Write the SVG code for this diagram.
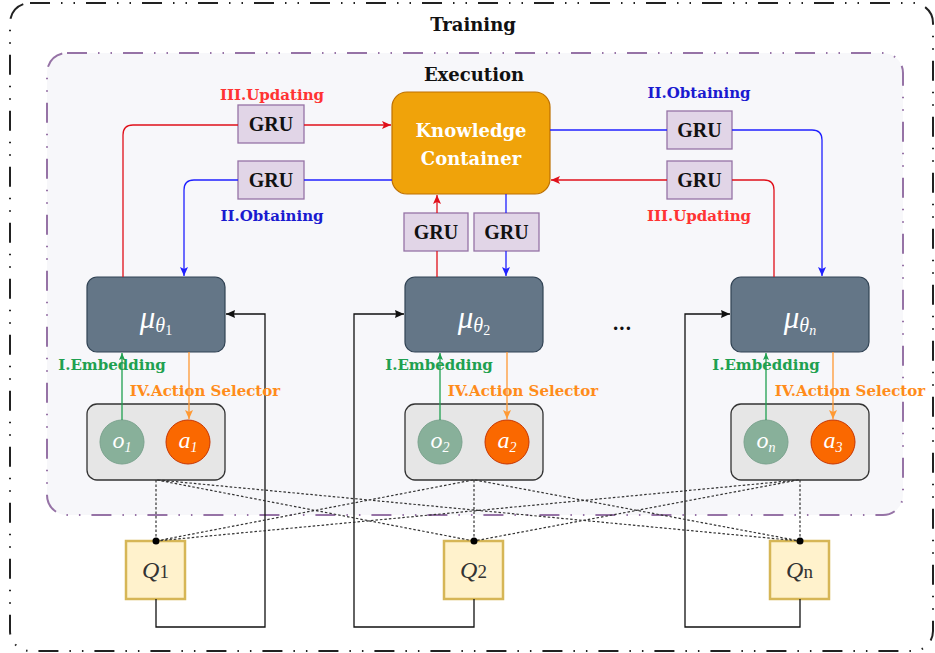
<svg xmlns="http://www.w3.org/2000/svg" width="935" height="653" viewBox="0 0 935 653">
<style>
.lbl{font-family:"DejaVu Serif","Liberation Serif",serif;font-weight:bold;text-anchor:middle}
.gru rect{fill:#E1D5E7;stroke:#9673A6;stroke-width:1.3}
.gru text{font-family:"Liberation Serif","DejaVu Serif",serif;font-weight:bold;font-size:20px;fill:#111;text-anchor:middle}
.mu rect{fill:#647687;stroke:#314354;stroke-width:1.2}
.mu text{font-family:"Liberation Serif","DejaVu Serif",serif;fill:#fff;text-anchor:middle}
.obs rect{fill:#E6E6E6;stroke:#333;stroke-width:1.3}
.oc{fill:#88B09A;stroke:#7BA38E;stroke-width:1}
.ac{fill:#FA6800;stroke:#C73500;stroke-width:1}
.ct{font-family:"Liberation Serif","DejaVu Serif",serif;fill:#fff;text-anchor:middle;font-style:italic}
.q rect{fill:#FFF2CC;stroke:#D6B656;stroke-width:2.5}
.q text{font-family:"Liberation Serif","DejaVu Serif",serif;fill:#333;text-anchor:middle}
.c{fill:none;stroke-width:1.3}
.red{stroke:#E0101A}
.blue{stroke:#2020FF}
.green{stroke:#1FA050}
.orange{stroke:#FF9933}
.blk{stroke:#111}
.dot{stroke:#333;stroke-dasharray:2.5 2;stroke-width:1.2;fill:none}
</style>
<defs>
<marker id="aR" markerWidth="10" markerHeight="10" refX="9" refY="5" orient="auto" markerUnits="userSpaceOnUse"><path d="M0,1 L9,5 L0,9 L2,5 Z" fill="#E0101A"/></marker>
<marker id="aB" markerWidth="10" markerHeight="10" refX="9" refY="5" orient="auto" markerUnits="userSpaceOnUse"><path d="M0,1 L9,5 L0,9 L2,5 Z" fill="#2020FF"/></marker>
<marker id="aG" markerWidth="8" markerHeight="8" refX="7" refY="4" orient="auto" markerUnits="userSpaceOnUse"><path d="M0,1 L7,4 L0,7 L1.5,4 Z" fill="#1FA050"/></marker>
<marker id="aO" markerWidth="10" markerHeight="10" refX="9" refY="5" orient="auto" markerUnits="userSpaceOnUse"><path d="M0,1 L9,5 L0,9 L2,5 Z" fill="#FF9933"/></marker>
<marker id="aK" markerWidth="10" markerHeight="10" refX="9" refY="5" orient="auto" markerUnits="userSpaceOnUse"><path d="M0,1 L9,5 L0,9 L1,5 Z" fill="#111"/></marker>
</defs>
<rect width="935" height="653" fill="#fff"/>
<g id="training">
<rect x="10" y="3" width="923" height="648" rx="20" fill="none" stroke="#222" stroke-width="2" stroke-dasharray="20 11 1.5 11 1.5 11"/>
<text class="lbl" x="473" y="31" font-size="18" fill="#111">Training</text>
</g>
<g id="execution">
<rect x="47" y="53" width="856" height="462" rx="20" fill="#F7F7FA" stroke="#9673A6" stroke-width="2" stroke-dasharray="20 11 1.5 11 1.5 11"/>
<text class="lbl" x="474" y="81" font-size="18" fill="#111">Execution</text>
</g>
<g id="knowledge-container">
<rect x="392" y="92" width="158" height="102" rx="15" fill="#F0A30A" stroke="#BD7000" stroke-width="1.2"/>
<text class="lbl" x="471" y="137" font-size="18" fill="#fff">Knowledge</text>
<text class="lbl" x="471" y="165" font-size="18" fill="#fff">Container</text>
</g>
<g id="gru1" class="gru"><rect x="238" y="105" width="66" height="38"/><text x="271" y="131">GRU</text></g>
<g id="gru2" class="gru"><rect x="238" y="161" width="66" height="38"/><text x="271" y="187">GRU</text></g>
<g id="gru3" class="gru"><rect x="404" y="213" width="64" height="38"/><text x="436" y="239">GRU</text></g>
<g id="gru4" class="gru"><rect x="474" y="213" width="65" height="38"/><text x="506.5" y="239">GRU</text></g>
<g id="gru5" class="gru"><rect x="667" y="111" width="65" height="38"/><text x="699.5" y="137">GRU</text></g>
<g id="gru6" class="gru"><rect x="667" y="161" width="65" height="38"/><text x="699.5" y="187">GRU</text></g>
<g id="mu1" class="mu"><rect x="87" y="277" width="138" height="75" rx="10"/><text x="156" y="328"><tspan font-style="italic" font-size="31">μ</tspan><tspan font-style="italic" font-size="20" dy="4">θ</tspan><tspan font-size="14" dy="3">1</tspan></text></g>
<g id="mu2" class="mu"><rect x="405" y="277" width="138" height="75" rx="10"/><text x="474" y="328"><tspan font-style="italic" font-size="31">μ</tspan><tspan font-style="italic" font-size="20" dy="4">θ</tspan><tspan font-size="14" dy="3">2</tspan></text></g>
<g id="mun" class="mu"><rect x="731" y="277" width="138" height="75" rx="10"/><text x="800" y="328"><tspan font-style="italic" font-size="31">μ</tspan><tspan font-style="italic" font-size="20" dy="4">θ</tspan><tspan font-style="italic" font-size="14" dy="3">n</tspan></text></g>
<g id="dots"><text class="lbl" x="622" y="330" font-size="18" fill="#111">...</text></g>
<g id="obs1" class="obs"><rect x="87" y="404" width="138" height="76" rx="10"/>
<circle class="oc" cx="122" cy="442" r="22"/><text class="ct" x="122" y="448"><tspan font-size="24">o</tspan><tspan font-size="14" dy="4">1</tspan></text>
<circle class="ac" cx="188" cy="442" r="22"/><text class="ct" x="188" y="448"><tspan font-size="24">a</tspan><tspan font-size="14" dy="4">1</tspan></text></g>
<g id="obs2" class="obs"><rect x="405" y="404" width="138" height="76" rx="10"/>
<circle class="oc" cx="440" cy="442" r="22"/><text class="ct" x="440" y="448"><tspan font-size="24">o</tspan><tspan font-size="14" dy="4">2</tspan></text>
<circle class="ac" cx="507" cy="442" r="22"/><text class="ct" x="507" y="448"><tspan font-size="24">a</tspan><tspan font-size="14" dy="4">2</tspan></text></g>
<g id="obsn" class="obs"><rect x="731" y="404" width="138" height="76" rx="10"/>
<circle class="oc" cx="766" cy="442" r="22"/><text class="ct" x="766" y="448"><tspan font-size="24">o</tspan><tspan font-size="14" dy="4">n</tspan></text>
<circle class="ac" cx="833" cy="442" r="22"/><text class="ct" x="833" y="448"><tspan font-size="24">a</tspan><tspan font-size="14" dy="4">3</tspan></text></g>
<g id="q1" class="q"><rect x="126" y="541" width="59" height="58"/><text x="155.5" y="578"><tspan font-style="italic" font-size="24">Q</tspan><tspan font-size="19">1</tspan></text></g>
<g id="q2" class="q"><rect x="444" y="541" width="59" height="58"/><text x="473.5" y="578"><tspan font-style="italic" font-size="24">Q</tspan><tspan font-size="19">2</tspan></text></g>
<g id="qn" class="q"><rect x="770" y="541" width="59" height="58"/><text x="799.5" y="578"><tspan font-style="italic" font-size="24">Q</tspan><tspan font-size="19">n</tspan></text></g>
<g id="connectors">
<path class="c red" d="M123,277 V135 Q123,125 133,125 H238"/>
<path class="c red" d="M304,125 H391" marker-end="url(#aR)"/>
<path class="c blue" d="M392,180 H304"/>
<path class="c blue" d="M238,180 H194 Q184,180 184,190 V276" marker-end="url(#aB)"/>
<path class="c red" d="M437,277 V251"/>
<path class="c red" d="M437,213 V195" marker-end="url(#aR)"/>
<path class="c blue" d="M506,194 V213"/>
<path class="c blue" d="M506,251 V276" marker-end="url(#aB)"/>
<path class="c blue" d="M550,130 H667"/>
<path class="c blue" d="M732,130 H812 Q822,130 822,140 V276" marker-end="url(#aB)"/>
<path class="c red" d="M774,277 V190 Q774,180 764,180 H732"/>
<path class="c red" d="M667,180 H551" marker-end="url(#aR)"/>
<path class="c green" d="M122,420 V353" marker-end="url(#aG)"/>
<path class="c orange" d="M189,352 V419" marker-end="url(#aO)"/>
<path class="c green" d="M440,420 V353" marker-end="url(#aG)"/>
<path class="c orange" d="M507,352 V419" marker-end="url(#aO)"/>
<path class="c green" d="M766,420 V353" marker-end="url(#aG)"/>
<path class="c orange" d="M833,352 V419" marker-end="url(#aO)"/>
<path class="c blk" d="M156,599 V627 H265 V314 H226" marker-end="url(#aK)"/>
<path class="c blk" d="M474,599 V627 H354 V314 H404" marker-end="url(#aK)"/>
<path class="c blk" d="M800,599 V627 H685 V314 H730" marker-end="url(#aK)"/>
<path class="dot" d="M156,480 L156,541 M157,480 L474,541 M158,480 L800,541 M474,480 L474,541 M473,480 L156,541 M475,480 L800,541 M800,480 L800,541 M799,480 L156,541 M798,480 L474,541"/>
</g>
<g id="junctions" fill="#000"><circle cx="156" cy="541" r="3.5"/><circle cx="474" cy="541" r="3.5"/><circle cx="800" cy="541" r="3.5"/></g>
<g id="label-updating-left"><text class="lbl" x="272" y="100" font-size="15" fill="#FF3333">III.Updating</text></g>
<g id="label-obtaining-left"><text class="lbl" x="272" y="221" font-size="15" fill="#1A1AD0">II.Obtaining</text></g>
<g id="label-obtaining-right"><text class="lbl" x="699" y="98" font-size="15" fill="#1A1AD0">II.Obtaining</text></g>
<g id="label-updating-right"><text class="lbl" x="699" y="221" font-size="15" fill="#FF3333">III.Updating</text></g>
<g id="emb1"><text class="lbl" x="112" y="370" font-size="15" fill="#1FA050">I.Embedding</text><text class="lbl" x="205" y="396" font-size="15" fill="#FF8C1A">IV.Action Selector</text></g>
<g id="emb2"><text class="lbl" x="439" y="370" font-size="15" fill="#1FA050">I.Embedding</text><text class="lbl" x="523" y="396" font-size="15" fill="#FF8C1A">IV.Action Selector</text></g>
<g id="embn"><text class="lbl" x="766" y="370" font-size="15" fill="#1FA050">I.Embedding</text><text class="lbl" x="850" y="396" font-size="15" fill="#FF8C1A">IV.Action Selector</text></g>
</svg>
